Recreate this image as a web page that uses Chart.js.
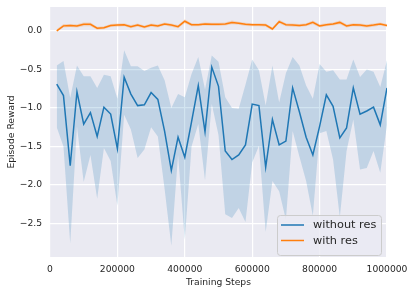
<!DOCTYPE html>
<html>
<head>
<meta charset="utf-8">
<script src="https://cdn.jsdelivr.net/npm/chart.js@4.4.0/dist/chart.umd.min.js"></script>
<style>
  html, body { margin: 0; padding: 0; background: #ffffff; }
  #wrap { width: 415px; height: 294px; }
</style>
</head>
<body>
<div id="wrap"><canvas id="c" width="415" height="294"></canvas></div>
<script>
const steps = [20000,40000,60000,80000,100000,120000,140000,160000,180000,200000,
  220000,240000,260000,280000,300000,320000,340000,360000,380000,400000,
  420000,440000,460000,480000,500000,520000,540000,560000,580000,600000,
  620000,640000,660000,680000,700000,720000,740000,760000,780000,800000,
  820000,840000,860000,880000,900000,920000,940000,960000,980000,1000000];

const withoutResMean = [-0.69,-0.84,-1.75,-0.79,-1.21,-1.06,-1.37,-0.99,-1.08,-1.53,
  -0.60,-0.82,-0.97,-0.96,-0.80,-0.89,-1.30,-1.81,-1.38,-1.64,
  -1.18,-0.71,-1.31,-0.47,-0.72,-1.56,-1.67,-1.61,-1.48,-0.95,
  -0.97,-1.77,-1.15,-1.48,-1.43,-0.74,-1.05,-1.38,-1.61,-1.24,
  -0.83,-0.98,-1.39,-1.26,-0.74,-1.08,-1.04,-0.99,-1.22,-0.74];

const withoutResUpper = [-0.45,-0.39,-0.87,-0.45,-0.59,-0.59,-0.74,-0.57,-0.59,-0.88,
  -0.25,-0.46,-0.46,-0.52,-0.48,-0.45,-0.64,-1.00,-0.82,-0.86,
  -0.56,-0.34,-0.76,-0.32,-0.40,-0.86,-1.00,-1.01,-0.70,-0.37,
  -0.51,-0.97,-0.45,-0.93,-0.55,-0.34,-0.45,-0.71,-0.88,-0.43,
  -0.53,-0.51,-0.63,-0.63,-0.37,-0.60,-0.50,-0.53,-0.73,-0.38];

const withoutResLower = [-1.25,-1.50,-2.76,-1.24,-1.96,-1.61,-2.18,-1.52,-1.69,-2.27,
  -1.09,-1.28,-1.65,-1.54,-1.25,-1.37,-2.05,-2.79,-1.61,-2.71,
  -1.50,-1.21,-1.94,-0.95,-1.35,-2.38,-2.43,-2.30,-2.48,-1.71,
  -1.49,-2.61,-1.95,-2.08,-2.45,-1.30,-1.63,-1.95,-2.40,-1.33,
  -1.30,-1.67,-2.42,-1.56,-1.15,-1.80,-1.78,-1.56,-1.84,-1.22];

const withResMean = [0.00,0.065,0.07,0.065,0.085,0.085,0.035,0.04,0.07,0.075,
  0.08,0.055,0.075,0.05,0.075,0.065,0.09,0.075,0.055,0.125,
  0.08,0.08,0.09,0.085,0.085,0.09,0.11,0.10,0.085,0.08,
  0.08,0.075,0.025,0.12,0.08,0.075,0.07,0.08,0.11,0.065,
  0.08,0.09,0.11,0.065,0.08,0.075,0.065,0.075,0.09,0.07];

const withResUpper = [0.02,0.09,0.09,0.085,0.11,0.11,0.055,0.06,0.09,0.095,
  0.10,0.075,0.095,0.07,0.095,0.085,0.11,0.095,0.075,0.15,
  0.10,0.10,0.11,0.105,0.105,0.11,0.135,0.12,0.105,0.10,
  0.10,0.095,0.045,0.145,0.10,0.095,0.09,0.10,0.135,0.085,
  0.10,0.11,0.135,0.085,0.10,0.095,0.085,0.095,0.11,0.09];

const withResLower = [-0.015,0.045,0.05,0.045,0.06,0.06,0.015,0.02,0.05,0.055,
  0.06,0.035,0.055,0.03,0.055,0.045,0.07,0.055,0.035,0.10,
  0.06,0.06,0.07,0.065,0.065,0.07,0.085,0.08,0.065,0.06,
  0.06,0.055,0.005,0.095,0.06,0.055,0.05,0.06,0.085,0.045,
  0.06,0.07,0.085,0.045,0.06,0.055,0.045,0.055,0.07,0.05];

const xTicks = [0,200000,400000,600000,800000,1000000];
const yTicks = [-2.5,-2.0,-1.5,-1.0,-0.5,0.0];
const yTickLabels = ['\u22122.5','\u22122.0','\u22121.5','\u22121.0','\u22120.5','0.0'];
const seriesNames = ['without res','with res'];

const BLUE = '#1f77b4', ORANGE = '#ff7f0e';
const TEXT = '#262626';

function pts(ys) { return steps.map((x, i) => ({ x: x, y: ys[i] })); }

Chart.defaults.font.family = "'DejaVu Sans', sans-serif";
Chart.defaults.font.size = 9.2;
Chart.defaults.color = TEXT;

const bgPlugin = {
  id: 'bg',
  beforeDraw(chart) {
    const a = chart.chartArea, ctx = chart.ctx;
    ctx.save();
    ctx.fillStyle = '#eaeaf2';
    ctx.fillRect(a.left, a.top, a.right - a.left, a.bottom - a.top);
    ctx.restore();
  }
};

const legendPlugin = {
  id: 'boxLegend',
  afterDraw(chart) {
    const a = chart.chartArea, ctx = chart.ctx;
    const w = 104, h = 40;
    const x = a.right - 6 - w, y = a.bottom - 2 - h;
    ctx.save();
    ctx.beginPath();
    if (ctx.roundRect) ctx.roundRect(x + 0.5, y + 0.5, w, h, 3); else ctx.rect(x + 0.5, y + 0.5, w, h);
    ctx.fillStyle = 'rgba(234,234,242,0.8)';
    ctx.fill();
    ctx.strokeStyle = '#cccccc';
    ctx.lineWidth = 1;
    ctx.stroke();
    const colors = [BLUE, ORANGE];
    ctx.font = "11.3px 'DejaVu Sans', sans-serif";
    ctx.textBaseline = 'middle';
    ctx.textAlign = 'left';
    for (let i = 0; i < 2; i++) {
      const ly = y + 10 + i * 15.5;
      ctx.beginPath();
      ctx.strokeStyle = colors[i];
      ctx.lineWidth = 1.5;
      ctx.moveTo(x + 4, ly);
      ctx.lineTo(x + 27, ly);
      ctx.stroke();
      ctx.fillStyle = TEXT;
      ctx.fillText(seriesNames[i], x + 36, ly + 0.5);
    }
    ctx.restore();
  }
};

new Chart(document.getElementById('c'), {
  type: 'line',
  data: {
    datasets: [
      { label: 'wo_lower', data: pts(withoutResLower), borderWidth: 0, pointRadius: 0, fill: false, order: 3, borderColor: 'rgba(0,0,0,0)' },
      { label: 'wo_upper', data: pts(withoutResUpper), borderWidth: 0, pointRadius: 0, fill: '-1', backgroundColor: 'rgba(31,119,180,0.2)', order: 3, borderColor: 'rgba(0,0,0,0)' },
      { label: 'w_lower', data: pts(withResLower), borderWidth: 0, pointRadius: 0, fill: false, order: 2, borderColor: 'rgba(0,0,0,0)' },
      { label: 'w_upper', data: pts(withResUpper), borderWidth: 0, pointRadius: 0, fill: '-1', backgroundColor: 'rgba(255,127,14,0.22)', order: 2, borderColor: 'rgba(0,0,0,0)' },
      { label: seriesNames[0], data: pts(withoutResMean), borderColor: BLUE, borderWidth: 1.5, pointRadius: 0, fill: false, order: 1 },
      { label: seriesNames[1], data: pts(withResMean), borderColor: ORANGE, borderWidth: 1.5, pointRadius: 0, fill: false, order: 0 }
    ]
  },
  options: {
    responsive: false,
    animation: false,
    devicePixelRatio: 1,
    layout: { padding: { left: 0, right: 28, top: 7, bottom: 0 } },
    elements: { line: { tension: 0 } },
    plugins: { legend: { display: false }, tooltip: { enabled: false } },
    scales: {
      x: {
        type: 'linear',
        min: 0, max: 1000000,
        afterBuildTicks(s) { s.ticks = xTicks.map(v => ({ value: v })); },
        afterFit(s) { s.height = 37; s.paddingLeft = 0; s.paddingRight = 0; },
        grid: { color: '#ffffff', lineWidth: 1.2, drawTicks: false },
        border: { display: false },
        ticks: { padding: 7, maxRotation: 0, callback: v => String(v), font: { size: 9.2 } },
        title: { display: true, text: 'Training Steps', font: { size: 9.2 }, padding: { top: 0, bottom: 6 } }
      },
      y: {
        type: 'linear',
        min: -2.935, max: 0.31,
        afterBuildTicks(s) { s.ticks = yTicks.map(v => ({ value: v })); },
        afterFit(s) { s.width = 50; s.paddingTop = 0; s.paddingBottom = 0; },
        grid: { color: '#ffffff', lineWidth: 1.2, drawTicks: false },
        border: { display: false },
        ticks: { padding: 8, callback: v => { const k = yTicks.findIndex(t => Math.abs(t - v) < 1e-9); return k >= 0 ? yTickLabels[k] : ''; }, font: { size: 9.2 } },
        title: { display: true, text: 'Episode Reward', font: { size: 9.2 }, padding: { top: 6, bottom: 0 } }
      }
    }
  },
  plugins: [bgPlugin, legendPlugin]
});
</script>
</body>
</html>
